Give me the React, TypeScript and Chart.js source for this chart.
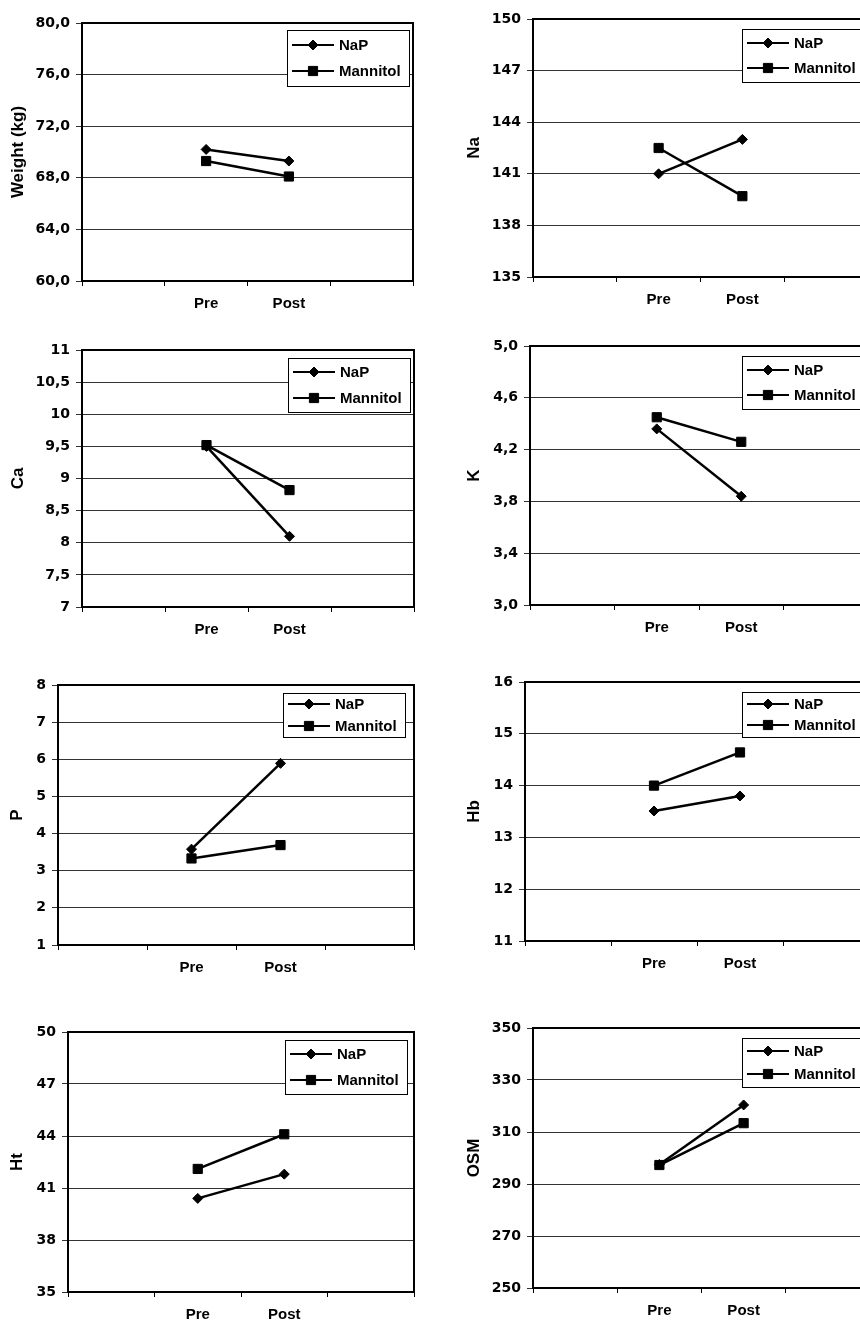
import React, { useEffect, useRef } from 'react';
import { Chart, registerables } from 'chart.js';

Chart.register(...registerables);

// ---------- data ----------
const categories = ['', 'Pre', 'Post', ''];
const seriesNames = ['NaP', 'Mannitol'];

const weightNaP = [null, 70.2, 69.3, null];
const weightMannitol = [null, 69.3, 68.1, null];
const weightTicks = ['60,0', '64,0', '68,0', '72,0', '76,0', '80,0'];

const naNaP = [null, 141.0, 143.0, null];
const naMannitol = [null, 142.5, 139.7, null];
const naTicks = ['135', '138', '141', '144', '147', '150'];

const caNaP = [null, 9.5, 8.1, null];
const caMannitol = [null, 9.52, 8.82, null];
const caTicks = ['7', '7,5', '8', '8,5', '9', '9,5', '10', '10,5', '11'];

const kNaP = [null, 4.36, 3.84, null];
const kMannitol = [null, 4.45, 4.26, null];
const kTicks = ['3,0', '3,4', '3,8', '4,2', '4,6', '5,0'];

const pNaP = [null, 3.58, 5.89, null];
const pMannitol = [null, 3.33, 3.69, null];
const pTicks = ['1', '2', '3', '4', '5', '6', '7', '8'];

const hbNaP = [null, 13.51, 13.8, null];
const hbMannitol = [null, 14.0, 14.64, null];
const hbTicks = ['11', '12', '13', '14', '15', '16'];

const htNaP = [null, 40.4, 41.8, null];
const htMannitol = [null, 42.1, 44.1, null];
const htTicks = ['35', '38', '41', '44', '47', '50'];

const osmNaP = [null, 297.5, 320.4, null];
const osmMannitol = [null, 297.3, 313.4, null];
const osmTicks = ['250', '270', '290', '310', '330', '350'];

// ---------- layout (page coordinates) ----------
type Box = { x: number; y: number; w: number; h: number };
type Plot = { l: number; t: number; r: number; b: number };
type Leg = { x: number; y: number; h: number };

interface PanelDef {
  title: string;
  nap: (number | null)[];
  man: (number | null)[];
  ticks: string[];
  canvas: Box;
  plot: Plot;
  legend: Leg;
  titleX: number;
}

const panels: PanelDef[] = [
  { title: 'Weight (kg)', nap: weightNaP, man: weightMannitol, ticks: weightTicks,
    canvas: { x: 0, y: 0, w: 430, h: 330 }, plot: { l: 82, t: 23, r: 413, b: 281 },
    legend: { x: 287, y: 30, h: 56 }, titleX: 18 },
  { title: 'Na', nap: naNaP, man: naMannitol, ticks: naTicks,
    canvas: { x: 430, y: 0, w: 450, h: 330 }, plot: { l: 533, t: 19, r: 868, b: 277 },
    legend: { x: 742, y: 29, h: 53 }, titleX: 44 },
  { title: 'Ca', nap: caNaP, man: caMannitol, ticks: caTicks,
    canvas: { x: 0, y: 330, w: 430, h: 330 }, plot: { l: 82, t: 350, r: 414, b: 607 },
    legend: { x: 288, y: 358, h: 54 }, titleX: 18 },
  { title: 'K', nap: kNaP, man: kMannitol, ticks: kTicks,
    canvas: { x: 430, y: 330, w: 450, h: 330 }, plot: { l: 530, t: 346, r: 868, b: 605 },
    legend: { x: 742, y: 356, h: 53 }, titleX: 44 },
  { title: 'P', nap: pNaP, man: pMannitol, ticks: pTicks,
    canvas: { x: 0, y: 660, w: 430, h: 330 }, plot: { l: 58, t: 685, r: 414, b: 945 },
    legend: { x: 283, y: 693, h: 44 }, titleX: 17 },
  { title: 'Hb', nap: hbNaP, man: hbMannitol, ticks: hbTicks,
    canvas: { x: 430, y: 660, w: 450, h: 330 }, plot: { l: 525, t: 682, r: 869, b: 941 },
    legend: { x: 742, y: 692, h: 45 }, titleX: 44 },
  { title: 'Ht', nap: htNaP, man: htMannitol, ticks: htTicks,
    canvas: { x: 0, y: 990, w: 430, h: 331 }, plot: { l: 68, t: 1032, r: 414, b: 1292 },
    legend: { x: 285, y: 1040, h: 54 }, titleX: 17 },
  { title: 'OSM', nap: osmNaP, man: osmMannitol, ticks: osmTicks,
    canvas: { x: 430, y: 990, w: 450, h: 331 }, plot: { l: 533, t: 1028, r: 870, b: 1288 },
    legend: { x: 742, y: 1038, h: 49 }, titleX: 44 },
];

const ARIAL = '"Liberation Sans", Arial, sans-serif';
const TICKFONT = '"DejaVu Sans", "Liberation Sans", sans-serif';
const pointStyles = ['rectRot', 'rect'];
const pointRadii = [5, 6.5];

const framePlugin = {
  id: 'frame',
  afterDatasetsDraw(chart: any) {
    const { ctx, chartArea: a } = chart;
    ctx.save();
    ctx.strokeStyle = '#000';
    ctx.lineWidth = 2;
    ctx.strokeRect(a.left, a.top, a.right - a.left, a.bottom - a.top);
    ctx.restore();
  },
};

function drawMarker(ctx: CanvasRenderingContext2D, style: string, x: number, y: number, r: number) {
  ctx.beginPath();
  if (style === 'rectRot') {
    ctx.moveTo(x - r, y);
    ctx.lineTo(x, y - r);
    ctx.lineTo(x + r, y);
    ctx.lineTo(x, y + r);
    ctx.closePath();
  } else {
    const s = Math.SQRT1_2 * r;
    ctx.rect(x - s, y - s, 2 * s, 2 * s);
  }
  ctx.fill();
  ctx.lineWidth = 1;
  ctx.stroke();
}

function makeLegendPlugin(p: PanelDef) {
  return {
    id: 'boxLegend',
    afterDraw(chart: any) {
      const ctx: CanvasRenderingContext2D = chart.ctx;
      const bx = p.legend.x - p.canvas.x;
      const by = p.legend.y - p.canvas.y;
      const bw = 122;
      const bh = p.legend.h;
      ctx.save();
      ctx.fillStyle = '#fff';
      ctx.fillRect(bx, by, bw, bh);
      ctx.strokeStyle = '#000';
      ctx.lineWidth = 1;
      ctx.strokeRect(bx + 0.5, by + 0.5, bw, bh);
      const rows = [0.26, 0.74];
      chart.data.datasets.forEach((ds: any, i: number) => {
        const cy = Math.round(by + bh * rows[i]);
        ctx.strokeStyle = '#000';
        ctx.fillStyle = '#000';
        ctx.lineWidth = 2;
        ctx.beginPath();
        ctx.moveTo(bx + 5, cy);
        ctx.lineTo(bx + 47, cy);
        ctx.stroke();
        drawMarker(ctx, ds.pointStyle, bx + 26, cy, i === 0 ? 5 : 6.5);
        ctx.font = 'bold 15px ' + ARIAL;
        ctx.textBaseline = 'middle';
        ctx.textAlign = 'left';
        ctx.fillText(ds.label, bx + 52, cy + 1);
      });
      ctx.restore();
    },
  };
}

function Panel({ p }: { p: PanelDef }) {
  const ref = useRef<HTMLCanvasElement>(null);
  useEffect(() => {
    const c = p.canvas;
    const pl = p.plot;
    const tickVals = p.ticks.map((s) => parseFloat(s.replace(',', '.')));
    const series = [p.nap, p.man];
    const chart = new Chart(ref.current as HTMLCanvasElement, {
      type: 'line',
      data: {
        labels: categories,
        datasets: series.map((d, i) => ({
          label: seriesNames[i],
          data: d,
          borderColor: '#000',
          backgroundColor: '#000',
          borderWidth: 2.5,
          pointStyle: pointStyles[i],
          pointRadius: pointRadii[i],
          pointBorderWidth: 1,
          pointBackgroundColor: '#000',
          pointBorderColor: '#000',
          tension: 0,
          spanGaps: false,
        })) as any,
      },
      options: {
        animation: false,
        responsive: false,
        maintainAspectRatio: false,
        events: [],
        layout: {
          padding: { left: 0, top: pl.t - c.y, right: c.x + c.w - pl.r, bottom: 0 },
        },
        plugins: {
          legend: { display: false },
          tooltip: { enabled: false },
        },
        scales: {
          x: {
            type: 'category',
            offset: true,
            grid: {
              display: true,
              drawOnChartArea: false,
              offset: true,
              drawTicks: true,
              tickLength: 5,
              color: '#000',
              lineWidth: 1,
            },
            border: { display: false },
            ticks: {
              color: '#000',
              font: { family: ARIAL, size: 15, weight: 'bold' },
              padding: 9,
              maxRotation: 0,
              autoSkip: false,
            },
            afterFit: (s: any) => {
              s.height = c.y + c.h - pl.b;
            },
          },
          y: {
            min: tickVals[0],
            max: tickVals[tickVals.length - 1],
            afterBuildTicks: (s: any) => {
              s.ticks = tickVals.map((v) => ({ value: v }));
            },
            grid: {
              color: '#333',
              lineWidth: 1,
              tickLength: 6,
            },
            border: { display: false },
            ticks: {
              color: '#000',
              font: { family: TICKFONT, size: 14, weight: 'bold' },
              padding: 6,
              callback: (_v: any, i: number) => p.ticks[i],
            },
            title: {
              display: true,
              text: p.title,
              color: '#000',
              font: { family: ARIAL, size: 17, weight: 'bold' },
              padding: { top: p.titleX - 10.2, bottom: 0 },
            },
            afterFit: (s: any) => {
              s.width = pl.l - c.x;
            },
          },
        },
      } as any,
      plugins: [framePlugin, makeLegendPlugin(p)],
    });
    return () => chart.destroy();
  }, [p]);
  return (
    <canvas
      ref={ref}
      width={p.canvas.w}
      height={p.canvas.h}
      style={{
        position: 'absolute',
        left: p.canvas.x,
        top: p.canvas.y,
        width: p.canvas.w,
        height: p.canvas.h,
      }}
    />
  );
}

export default function App() {
  return (
    <div
      style={{
        position: 'absolute',
        left: 0,
        top: 0,
        width: 860,
        height: 1321,
        overflow: 'hidden',
        background: '#fff',
      }}
    >
      {panels.map((p, i) => (
        <Panel key={i} p={p} />
      ))}
    </div>
  );
}
